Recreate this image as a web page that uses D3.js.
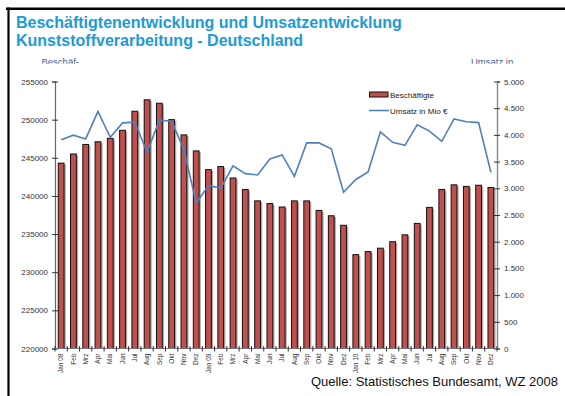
<!DOCTYPE html>
<html>
<head>
<meta charset="utf-8">
<script src="https://cdn.jsdelivr.net/npm/d3@7"></script>
<style>
  html, body { margin: 0; padding: 0; background: #fff; }
  svg { display: block; font-family: "Liberation Sans", Arial, sans-serif; }
</style>
</head>
<body>
<svg id="chart" width="565" height="396"></svg>
<script>
// Monthly categories, Jan 2008 – Dez 2010
const months = ["Jan 08","Feb","Mrz","Apr","Mai","Jun","Jul","Aug","Sep","Okt","Nov","Dez",
                "Jan 09","Feb","Mrz","Apr","Mai","Jun","Jul","Aug","Sep","Okt","Nov","Dez",
                "Jan 10","Feb","Mrz","Apr","Mai","Jun","Jul","Aug","Sep","Okt","Nov","Dez"];

// Beschäftigte (persons employed)
const employees = [244300, 245500, 246750, 247100, 247550, 248600, 251100, 252600, 252150, 250000, 248000, 245900,
                   243450, 243850, 242350, 240850, 239350, 239000, 238550, 239350, 239350, 238100, 237400, 236150,
                   232300, 232700, 233150, 234000, 234900, 236400, 238500, 240850, 241450, 241250, 241400, 241100];

// Umsatz in Mio €
const revenue = [3910, 3995, 3925, 4440, 3955, 4225, 4240, 3675, 4275, 4255, 3725, 2725,
                 3050, 3005, 3420, 3275, 3250, 3550, 3625, 3225, 3850, 3850, 3740, 2925,
                 3165, 3305, 4055, 3860, 3805, 4190, 4070, 3880, 4300, 4245, 4230, 3300];

const leftTicks = [220000, 225000, 230000, 235000, 240000, 245000, 250000, 255000];
const rightTicks = [0, 500, 1000, 1500, 2000, 2500, 3000, 3500, 4000, 4500, 5000];

const svg = d3.select("#chart");
const plot = { left: 55, right: 497, top: 81.5, bottom: 348.5 };

// Frame lines
svg.append("line").attr("x1", 6).attr("x2", 565).attr("y1", 8.7).attr("y2", 8.7)
  .attr("stroke", "#000").attr("stroke-width", 2.6);
svg.append("line").attr("x1", 8.5).attr("x2", 8.5).attr("y1", 7.5).attr("y2", 396)
  .attr("stroke", "#000").attr("stroke-width", 2.2);

// Title
const title = svg.append("text").attr("x", 16).attr("fill", "#1B9BD8")
  .attr("font-size", 16).attr("font-weight", "bold");
title.append("tspan").attr("x", 16).attr("y", 28.3).text("Beschäftigtenentwicklung und Umsatzentwicklung");
title.append("tspan").attr("x", 16).attr("y", 45.8).text("Kunststoffverarbeitung - Deutschland");

// Axis titles, cut off at their lower half
svg.append("clipPath").attr("id", "axisTitleClip")
  .append("rect").attr("x", 0).attr("y", 50).attr("width", 565).attr("height", 13.8);
const axTitles = svg.append("g").attr("clip-path", "url(#axisTitleClip)")
  .attr("fill", "#3D5E9E").attr("font-size", 9.5);
axTitles.append("text").attr("x", 41.5).attr("y", 65).text("Beschäf-");
axTitles.append("text").attr("x", 471).attr("y", 65).text("Umsatz in");

// Scales
const x = d3.scaleBand().domain(d3.range(months.length))
  .range([plot.left, plot.right]).paddingInner(0.53).paddingOuter(0.265);
const xStep = (plot.right - plot.left) / months.length;
const yL = d3.scaleLinear().domain([220000, 255000]).range([plot.bottom, plot.top]);
const yR = d3.scaleLinear().domain([0, 5000]).range([plot.bottom, plot.top]);

const de = d3.formatLocale({ decimal: ",", thousands: ".", grouping: [3], currency: ["", " €"] });
const fmtR = de.format(",");

// Bars with a soft drop shadow
const bars = svg.append("g");
bars.selectAll("rect.shadow").data(employees).join("rect")
  .attr("class", "shadow")
  .attr("x", (d, i) => x(i) + 1.8)
  .attr("y", d => yL(d) + 1.2)
  .attr("width", x.bandwidth())
  .attr("height", d => plot.bottom - yL(d) - 1.2)
  .attr("fill", "#9a9a9a").attr("opacity", 0.8);
bars.selectAll("rect.bar").data(employees).join("rect")
  .attr("class", "bar")
  .attr("x", (d, i) => x(i))
  .attr("y", d => yL(d))
  .attr("width", x.bandwidth())
  .attr("height", d => plot.bottom - yL(d))
  .attr("fill", "#C0504D").attr("stroke", "#111").attr("stroke-width", 1);

// Revenue line
const line = d3.line()
  .x((d, i) => x(i) + x.bandwidth() / 2)
  .y(d => yR(d));
svg.append("path").datum(revenue).attr("d", line)
  .attr("fill", "none").attr("stroke", "#4F81BD").attr("stroke-width", 1.6)
  .attr("stroke-linejoin", "miter");

// Left axis
const gL = svg.append("g").attr("transform", `translate(${plot.left},0)`)
  .call(d3.axisLeft(yL).tickValues(leftTicks).tickFormat(d3.format("d")).tickSize(3).tickPadding(4));
gL.select(".domain").attr("stroke", "#666").attr("stroke-width", 1.2);
gL.selectAll(".tick line").attr("x2", 3).attr("x1", -3).attr("stroke", "#333");
gL.selectAll("text").attr("font-size", 8).attr("fill", "#333")
  .attr("font-family", "'Liberation Sans', Arial, sans-serif");

// Right axis
const gR = svg.append("g").attr("transform", `translate(${plot.right},0)`)
  .call(d3.axisRight(yR).tickValues(rightTicks).tickFormat(fmtR).tickSize(3).tickPadding(4));
gR.select(".domain").attr("stroke", "#888").attr("stroke-width", 1.4);
gR.selectAll(".tick line").attr("x1", -3).attr("x2", 3).attr("stroke", "#333");
gR.selectAll("text").attr("font-size", 8).attr("fill", "#333")
  .attr("font-family", "'Liberation Sans', Arial, sans-serif");

// Bottom axis: ticks between months, labels rotated
const gB = svg.append("g").attr("transform", `translate(0,${plot.bottom})`);
gB.append("line").attr("x1", plot.left).attr("x2", plot.right).attr("y1", 0).attr("y2", 0)
  .attr("stroke", "#777").attr("stroke-width", 1.2);
gB.selectAll("line.tk").data(d3.range(months.length + 1)).join("line")
  .attr("class", "tk")
  .attr("x1", i => plot.left + i * xStep).attr("x2", i => plot.left + i * xStep)
  .attr("y1", -2.5).attr("y2", 3).attr("stroke", "#333");
gB.selectAll("text").data(months).join("text")
  .attr("transform", (d, i) => `translate(${x(i) + x.bandwidth() / 2 + 2.2},5) rotate(-90)`)
  .attr("text-anchor", "end")
  .attr("font-size", 6.5).attr("fill", "#333")
  .text(d => d);

// Legend
const lg = svg.append("g").attr("font-size", 8).attr("fill", "#222");
lg.append("rect").attr("x", 369.5).attr("y", 92).attr("width", 18.5).attr("height", 5)
  .attr("fill", "#C0504D").attr("stroke", "#111").attr("stroke-width", 1);
lg.append("text").attr("x", 390).attr("y", 97.5).text("Beschäftigte");
lg.append("line").attr("x1", 369).attr("x2", 389).attr("y1", 110.5).attr("y2", 110.5)
  .attr("stroke", "#4F81BD").attr("stroke-width", 1.6);
lg.append("text").attr("x", 390).attr("y", 113.5).text("Umsatz in Mio €");

// Source note
svg.append("text").attr("x", 558).attr("y", 385.5).attr("text-anchor", "end")
  .attr("font-size", 13).attr("fill", "#111")
  .text("Quelle: Statistisches Bundesamt, WZ 2008");
</script>
</body>
</html>
